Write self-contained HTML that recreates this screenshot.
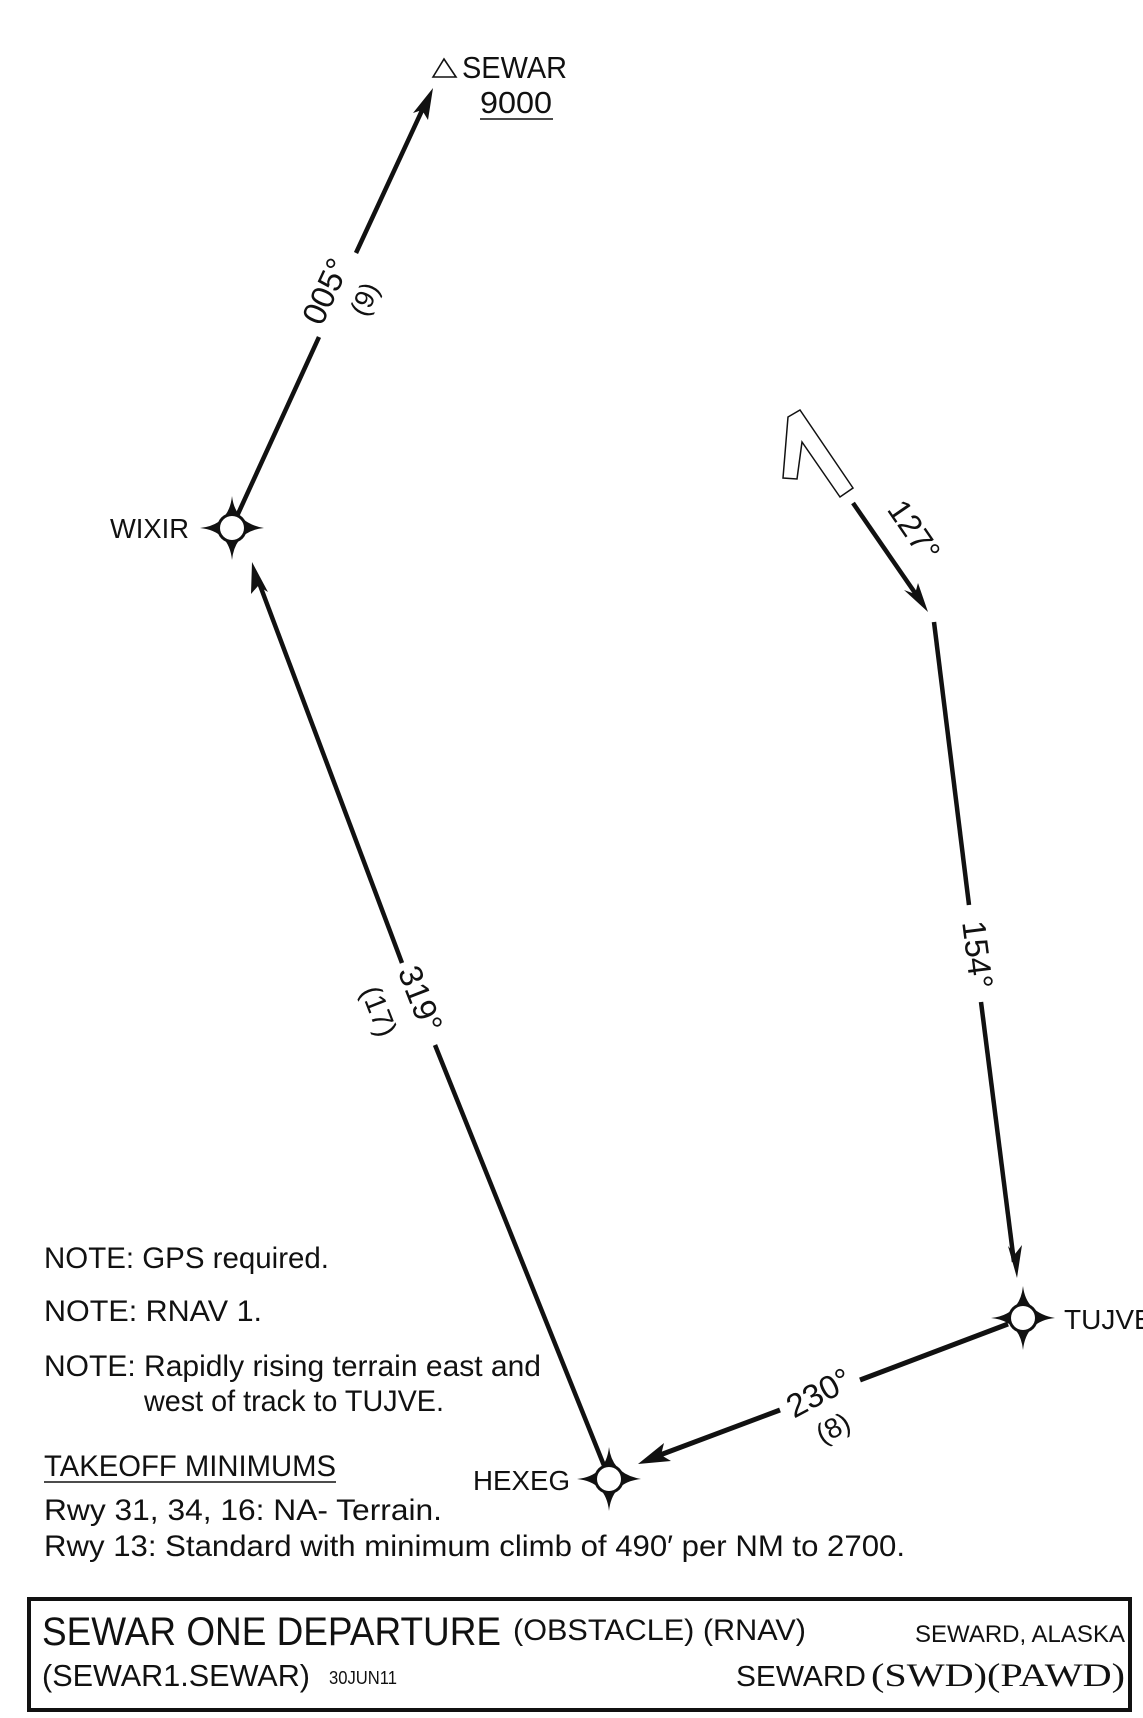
<!DOCTYPE html>
<html><head><meta charset="utf-8"><style>
html,body{margin:0;padding:0;background:#fff;}
svg{display:block;}
text{font-family:"Liberation Sans Narrow","Liberation Sans",sans-serif;fill:#111;}
</style></head><body>
<svg width="1143" height="1718" viewBox="0 0 1143 1718" xmlns="http://www.w3.org/2000/svg">
<defs>
<g id="wp">
<circle r="15" fill="#111"/>
<path d="M0,-32 Q3,-5 32,0 Q3,3 0,32 Q-3,3 -32,0 Q-3,-3 0,-32 Z" fill="#111"/>
<circle r="12" fill="#fff"/>
</g>
</defs>

<!-- SEWAR -->
<polygon points="433,77 444,59 456,77" fill="none" stroke="#111" stroke-width="1.6"/>
<text x="462" y="78" font-size="31" textLength="105" lengthAdjust="spacingAndGlyphs">SEWAR</text>
<text x="480" y="113" font-size="31" textLength="72" lengthAdjust="spacingAndGlyphs">9000</text>
<line x1="480" y1="119" x2="553" y2="119" stroke="#111" stroke-width="1.5"/>

<!-- WIXIR -> SEWAR -->
<line x1="232" y1="527" x2="319" y2="337" stroke="#111" stroke-width="4.5"/>
<line x1="356" y1="253" x2="425" y2="104" stroke="#111" stroke-width="4.5"/>
<polygon points="433,88 428,120 422,110 413,113" fill="#111"/>
<text transform="translate(336,296) rotate(-65.4)" font-size="33" text-anchor="middle">005°</text>
<text transform="translate(373,303) rotate(-65.4)" font-size="27" text-anchor="middle">(9)</text>

<!-- HEXEG -> WIXIR -->
<line x1="609" y1="1478" x2="435" y2="1045" stroke="#111" stroke-width="4.5"/>
<line x1="402" y1="963" x2="258" y2="580" stroke="#111" stroke-width="4.5"/>
<polygon points="252,562 268,592 258,586 251,594" fill="#111"/>
<text transform="translate(418,1000) rotate(68.7)" font-size="33" text-anchor="middle" dominant-baseline="middle">319°</text>
<text transform="translate(377,1012) rotate(68.7)" font-size="29" text-anchor="middle" dominant-baseline="middle">(17)</text>

<!-- runway symbol -->
<polygon points="788,417 800,410 853,488 840,497 802,442 797,479 783,478" fill="#fff" stroke="#111" stroke-width="1.5"/>

<!-- 127 -->
<line x1="853" y1="503" x2="922" y2="603" stroke="#111" stroke-width="4.5"/>
<polygon points="928,612 904,590 915,594 918,583" fill="#111"/>
<text transform="translate(912,532) rotate(55.5)" font-size="32" text-anchor="middle" dominant-baseline="middle">127°</text>

<!-- 154 -->
<line x1="934" y1="622" x2="969" y2="905" stroke="#111" stroke-width="4.5"/>
<line x1="981" y1="1002" x2="1014" y2="1262" stroke="#111" stroke-width="4.5"/>
<polygon points="1017,1278 1008,1246 1015,1254 1022,1245" fill="#111"/>
<text transform="translate(975,955) rotate(82.8)" font-size="33" text-anchor="middle" dominant-baseline="middle">154°</text>

<!-- TUJVE -> HEXEG -->
<line x1="1008" y1="1324" x2="860" y2="1380" stroke="#111" stroke-width="5"/>
<line x1="780" y1="1410" x2="652" y2="1458" stroke="#111" stroke-width="5"/>
<polygon points="638,1464 664,1443 661,1455 671,1461" fill="#111"/>
<text transform="translate(820,1395) rotate(-28)" font-size="33" text-anchor="middle" dominant-baseline="middle">230°</text>
<text transform="translate(834,1430) rotate(-28)" font-size="28" text-anchor="middle" dominant-baseline="middle">(8)</text>

<!-- waypoints -->
<use href="#wp" x="232" y="528"/>
<use href="#wp" x="609" y="1479"/>
<use href="#wp" x="1023" y="1318"/>
<text x="110" y="538" font-size="28" textLength="79" lengthAdjust="spacingAndGlyphs">WIXIR</text>
<text x="473" y="1490" font-size="28" textLength="97" lengthAdjust="spacingAndGlyphs">HEXEG</text>
<text x="1064" y="1329" font-size="28">TUJVE</text>

<!-- notes -->
<g font-size="30">
<text x="44" y="1268" textLength="285" lengthAdjust="spacingAndGlyphs">NOTE: GPS required.</text>
<text x="44" y="1321" textLength="218" lengthAdjust="spacingAndGlyphs">NOTE: RNAV 1.</text>
<text x="44" y="1376" textLength="497" lengthAdjust="spacingAndGlyphs">NOTE: Rapidly rising terrain east and</text>
<text x="144" y="1411" textLength="300" lengthAdjust="spacingAndGlyphs">west of track to TUJVE.</text>
<text x="44" y="1476" textLength="292" lengthAdjust="spacingAndGlyphs">TAKEOFF MINIMUMS</text>
<text x="44" y="1520" textLength="398" lengthAdjust="spacingAndGlyphs">Rwy 31, 34, 16: NA- Terrain.</text>
<text x="44" y="1556" textLength="861" lengthAdjust="spacingAndGlyphs">Rwy 13: Standard with minimum climb of 490′ per NM to 2700.</text>
</g>
<line x1="44" y1="1482" x2="336" y2="1482" stroke="#111" stroke-width="1.5"/>

<!-- title box -->
<rect x="29" y="1599" width="1101" height="111" fill="none" stroke="#111" stroke-width="4"/>
<text x="42" y="1645" font-size="40" textLength="459" lengthAdjust="spacingAndGlyphs">SEWAR ONE DEPARTURE</text>
<text x="513" y="1640" font-size="30" textLength="293" lengthAdjust="spacingAndGlyphs">(OBSTACLE) (RNAV)</text>
<text x="915" y="1642" font-size="24" textLength="210" lengthAdjust="spacingAndGlyphs">SEWARD, ALASKA</text>
<text x="42" y="1686" font-size="31" textLength="268" lengthAdjust="spacingAndGlyphs">(SEWAR1.SEWAR)</text>
<text x="329" y="1684" font-size="18" textLength="68" lengthAdjust="spacingAndGlyphs">30JUN11</text>
<text x="736" y="1686" font-size="29" textLength="130" lengthAdjust="spacingAndGlyphs">SEWARD</text>
<text x="871" y="1686" font-size="33" font-family="Liberation Serif, serif" textLength="254" lengthAdjust="spacingAndGlyphs" style="font-family:'Liberation Serif',serif">(SWD)(PAWD)</text>
</svg>
</body></html>
